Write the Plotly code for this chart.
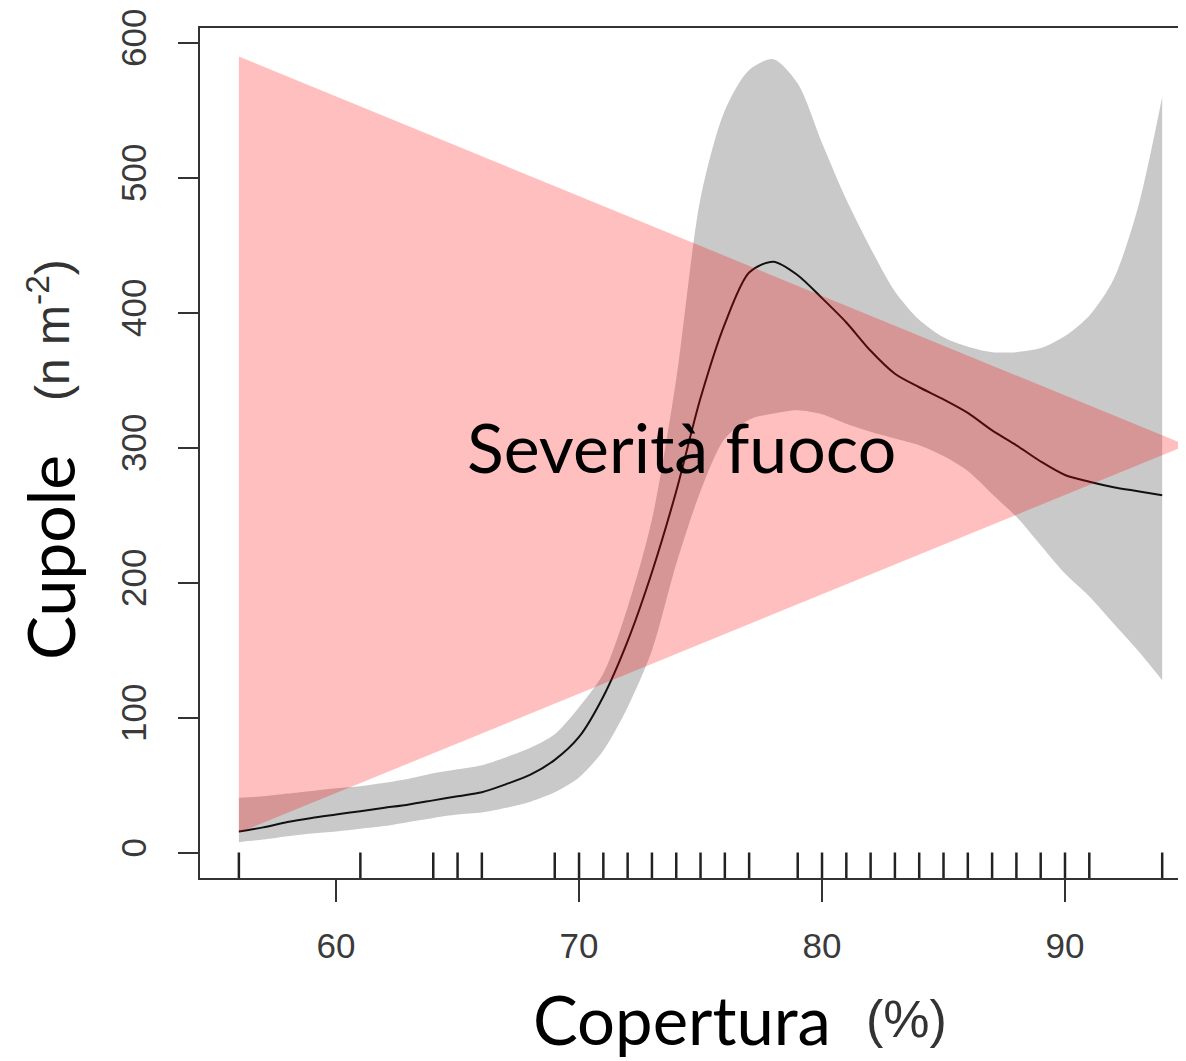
import plotly.graph_objects as go

# ---- data ----
cover = [56, 57, 58, 59, 60, 61, 62, 63, 64, 65, 66, 67, 68, 69, 70, 71, 72, 73, 74, 75,
         76, 77, 78, 79, 80, 81, 82, 83, 84, 85, 86, 87, 88, 89, 90, 91, 92, 93, 94]
fit = [16, 19, 23, 26, 28.5, 31, 33.5, 36, 39, 42, 45, 51, 58, 69, 86, 116, 157, 208, 268, 337,
       392, 430, 438, 428, 411, 393, 372, 355, 345, 336, 326, 313, 302, 290, 280, 275, 271, 268, 265]
upper = [41, 42, 44, 46, 48, 49.5, 52, 55, 59, 62, 65, 71, 78, 88, 108, 133, 182, 247, 351, 485,
         550, 580, 588, 570, 526, 484, 448, 416, 395, 382, 375, 371, 371, 374, 383, 398, 425, 478, 560]
lower = [8, 10, 12.5, 14.5, 16, 18, 20, 23, 26, 28.5, 30, 33.5, 38, 45, 56, 76, 108, 150, 214, 268,
         307, 321, 325.5, 328, 325, 318, 312, 307, 302, 294, 283, 266, 249, 228, 207, 190, 170, 150, 128]
rug_cover = [56, 61, 64, 65, 66, 69, 70, 71, 72, 73, 74, 75, 76, 77, 79, 80, 81, 82, 83, 84,
             85, 86, 87, 88, 89, 90, 91, 94]
x_ticks = [60, 70, 80, 90]
y_ticks = [0, 100, 200, 300, 400, 500, 600]
severity_x = [56, 56, 95]
severity_y = [590, 15, 302]

X_RANGE = [54.40, 94.98]
Y_RANGE = [-18.5, 611.1]

# page body adds an 8px margin; figure sized to fit inside the window
OFF = 8
W, H = 1186 - OFF, 1061 - OFF
ML, MR, MT, MB = 200 - OFF, 0, 28 - OFF, 1061 - 878
PW, PH = W - ML - MR, H - MT - MB


def px_to_paper(px, py):
    # px, py are positions in the reference picture
    return (px - OFF - ML) / PW, (H - MB - (py - OFF)) / PH


fig = go.Figure()

# confidence band
fig.add_trace(go.Scatter(x=cover, y=lower, mode="lines",
                         line=dict(width=0, shape="spline", smoothing=0.8, color="#c9c9c9"),
                         showlegend=False, hoverinfo="skip"))
fig.add_trace(go.Scatter(x=cover, y=upper, mode="lines", fill="tonexty",
                         fillcolor="#c9c9c9",
                         line=dict(width=0, shape="spline", smoothing=0.8, color="#c9c9c9"),
                         showlegend=False, hoverinfo="skip"))
# fitted line
fig.add_trace(go.Scatter(x=cover, y=fit, mode="lines",
                         line=dict(width=2, color="#111111", shape="spline", smoothing=0.8),
                         showlegend=False))
# rug
span = Y_RANGE[1] - Y_RANGE[0]
rx, ry = [], []
for v in rug_cover:
    rx += [v, v, None]
    ry += [Y_RANGE[0], Y_RANGE[0] + 0.03 * span, None]
fig.add_trace(go.Scatter(x=rx, y=ry, mode="lines",
                         line=dict(width=2.5, color="#222222"),
                         showlegend=False, hoverinfo="skip"))
# severity triangle
fig.add_trace(go.Scatter(x=severity_x, y=severity_y, mode="lines", fill="toself",
                         fillcolor="rgba(255,0,0,0.25)", line=dict(width=0),
                         showlegend=False, hoverinfo="skip"))

tick_font = dict(family="Liberation Sans, Arial, sans-serif", size=35, color="#3a3a3a")

fig.update_xaxes(range=X_RANGE, tickvals=x_ticks, ticks="outside", ticklen=22, tickwidth=2,
                 tickcolor="#333333", showline=True, linewidth=2, linecolor="#333333",
                 mirror=True, showgrid=False, zeroline=False, tickfont=tick_font,
                 ticklabelstandoff=14)
fig.update_yaxes(range=Y_RANGE, tickvals=y_ticks, ticks="outside", ticklen=20, tickwidth=2,
                 tickcolor="#333333", showline=True, linewidth=2, linecolor="#333333",
                 mirror=False, showgrid=False, zeroline=False, tickfont=tick_font,
                 tickangle=-90, ticklabelstandoff=18)

ann = []
x, y = px_to_paper(49, 558)
ann.append(dict(text="Cupole", x=x, y=y, xref="paper", yref="paper", showarrow=False,
                textangle=-90, xanchor="center", yanchor="middle",
                font=dict(family="Lato, sans-serif", size=66, color="black")))
x, y = px_to_paper(49, 330)
ann.append(dict(text="(n m<sup>-2</sup>)", x=x, y=y, xref="paper", yref="paper", showarrow=False,
                textangle=-90, xanchor="center", yanchor="middle",
                font=dict(family="Liberation Sans, Arial, sans-serif", size=48, color="#333333")))
x, y = px_to_paper(682, 1019)
ann.append(dict(text="Copertura", x=x, y=y, xref="paper", yref="paper", showarrow=False,
                xanchor="center", yanchor="middle",
                font=dict(family="Lato, sans-serif", size=67, color="black")))
x, y = px_to_paper(906, 1019)
ann.append(dict(text="(%)", x=x, y=y, xref="paper", yref="paper", showarrow=False,
                xanchor="center", yanchor="middle",
                font=dict(family="Liberation Sans, Arial, sans-serif", size=52, color="#333333")))
x, y = px_to_paper(681, 446)
ann.append(dict(text="Severità fuoco", x=x, y=y, xref="paper", yref="paper", showarrow=False,
                xanchor="center", yanchor="middle",
                font=dict(family="Lato, sans-serif", size=68, color="black")))

fig.update_layout(width=W, height=H, margin=dict(l=ML, r=MR, t=MT, b=MB, autoexpand=False),
                  paper_bgcolor="white", plot_bgcolor="white", annotations=ann,
                  showlegend=False)

fig.write_html("out.html")
